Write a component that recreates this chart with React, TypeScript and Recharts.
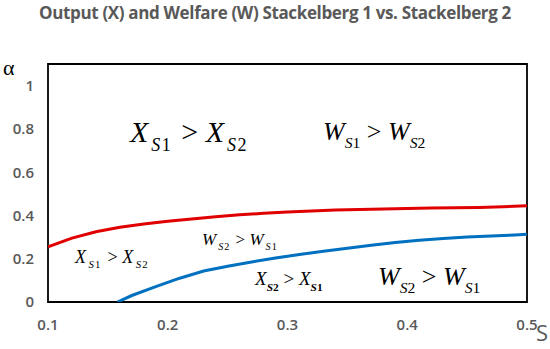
import React from 'react';
import { LineChart, Line, XAxis, YAxis, ReferenceArea, ReferenceDot } from 'recharts';

const xTicks = [0.1, 0.2, 0.3, 0.4, 0.5];
const yTicks = [0, 0.2, 0.4, 0.6, 0.8, 1];

const redS = [0.1, 0.12, 0.14, 0.16, 0.18, 0.2, 0.22, 0.24, 0.26, 0.28, 0.3, 0.32, 0.34, 0.36, 0.38, 0.4, 0.42, 0.44, 0.46, 0.48, 0.5];
const redAlpha = [0.255, 0.295, 0.325, 0.345, 0.36, 0.373, 0.384, 0.394, 0.403, 0.41, 0.416, 0.421, 0.425, 0.428, 0.43, 0.432, 0.434, 0.436, 0.437, 0.44, 0.445];

const blueS = [0.158, 0.17, 0.19, 0.21, 0.23, 0.25, 0.27, 0.29, 0.31, 0.33, 0.35, 0.37, 0.39, 0.41, 0.43, 0.45, 0.47, 0.49, 0.5];
const blueAlpha = [0, 0.03, 0.071, 0.11, 0.143, 0.165, 0.185, 0.203, 0.22, 0.235, 0.248, 0.262, 0.275, 0.285, 0.293, 0.3, 0.305, 0.31, 0.313];

const redData = redS.map((s, i) => ({ s, a: redAlpha[i] }));
const blueData = blueS.map((s, i) => ({ s, a: blueAlpha[i] }));

// region labels, anchored at the start of their baseline
type Annot = { v: string; l: string; r: string; s: number; a: number; size: number; gap: number; boldSub?: boolean };
const annotations: Annot[] = [
  { v: 'X', l: '1', r: '2', s: 0.1685, a: 0.741, size: 30, gap: 3 },
  { v: 'W', l: '1', r: '2', s: 0.3297, a: 0.75, size: 26, gap: 0 },
  { v: 'X', l: '1', r: '2', s: 0.1225, a: 0.181, size: 18, gap: 2.5 },
  { v: 'W', l: '2', r: '1', s: 0.2286, a: 0.264, size: 17, gap: 2 },
  { v: 'X', l: '2', r: '1', s: 0.2729, a: 0.079, size: 19, gap: 0, boldSub: true },
  { v: 'W', l: '2', r: '1', s: 0.3756, a: 0.079, size: 26, gap: 0 },
];

const serif = '"Liberation Serif", "Times New Roman", serif';
const sans = '"Open Sans", sans-serif';
const gray = '#595959';

function AnnotText({ cx, cy, item }: { cx: number; cy: number; item: Annot }) {
  const sub = item.size * 0.6;
  const drop = item.size * 0.3;
  const subWeight = item.boldSub ? 700 : 400;
  return (
    <text x={cx} y={cy} fontFamily={serif} fontSize={item.size} fill="#000">
      <tspan fontStyle="italic">{item.v}</tspan>
      <tspan fontSize={sub} dx={item.gap} dy={drop} fontStyle="italic" fontWeight={subWeight}>S</tspan>
      <tspan fontSize={sub} dx={item.gap * 0.5} fontWeight={subWeight}>{item.l}</tspan>
      <tspan dy={-drop} dx={item.gap}> &gt; </tspan>
      <tspan fontStyle="italic">{item.v}</tspan>
      <tspan fontSize={sub} dx={item.gap} dy={drop} fontStyle="italic" fontWeight={subWeight}>S</tspan>
      <tspan fontSize={sub} dx={item.gap * 0.5} fontWeight={subWeight}>{item.r}</tspan>
    </text>
  );
}

const tickStyle = { fontSize: 15, fontFamily: sans, fontWeight: 600, fill: gray };

export default function App() {
  return (
    <div style={{ position: 'absolute', left: 0, top: 0, width: 550, height: 349, background: '#fff' }}>
      <div
        style={{
          position: 'absolute',
          top: 1,
          left: 0,
          width: 550,
          textAlign: 'center',
          fontFamily: sans,
          fontWeight: 700,
          fontSize: 17,
          letterSpacing: -0.35,
          color: gray,
          whiteSpace: 'nowrap',
        }}
      >
        Output (X) and Welfare (W) Stackelberg 1 vs. Stackelberg 2
      </div>
      <div style={{ position: 'absolute', left: 3, top: 55, fontFamily: serif, fontSize: 22, color: '#000' }}>α</div>
      <div style={{ position: 'absolute', left: 536, top: 317, fontFamily: sans, fontSize: 22, color: gray }}>S</div>
      <LineChart width={550} height={349} margin={{ top: 64, right: 23, bottom: 17, left: 0 }}>
        <XAxis
          type="number"
          dataKey="s"
          domain={[0.1, 0.5]}
          ticks={xTicks}
          allowDataOverflow
          axisLine={false}
          tickLine={false}
          tickMargin={11}
          height={30}
          tick={tickStyle}
        />
        <YAxis
          type="number"
          dataKey="a"
          domain={[0, 1.1]}
          ticks={yTicks}
          allowDataOverflow
          axisLine={false}
          tickLine={false}
          tickMargin={8}
          width={48}
          tick={tickStyle}
        />
        <ReferenceArea x1={0.1} x2={0.5} y1={0} y2={1.1} fill="none" stroke="#000" strokeWidth={1.8} />
        <Line data={redData} dataKey="a" stroke="#e00000" strokeWidth={3} dot={false} isAnimationActive={false} />
        <Line data={blueData} dataKey="a" stroke="#0070c0" strokeWidth={3} dot={false} isAnimationActive={false} />
        {annotations.map((item, i) => (
          <ReferenceDot
            key={i}
            x={item.s}
            y={item.a}
            r={0}
            shape={(p: any) => <AnnotText cx={p.cx} cy={p.cy} item={item} />}
          />
        ))}
      </LineChart>
    </div>
  );
}
